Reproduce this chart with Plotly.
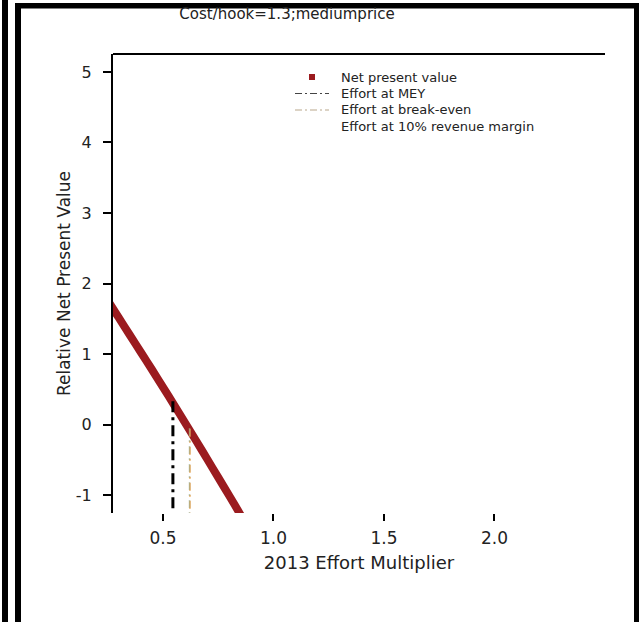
import plotly.graph_objects as go

# ---- data ----
effort = [0.25, 0.30, 0.35, 0.40, 0.45, 0.50, 0.55, 0.60, 0.65, 0.70, 0.75, 0.80, 0.85, 0.90]
npv = [1.76, 1.515, 1.27, 1.025, 0.78, 0.53, 0.28, 0.025, -0.23, -0.49, -0.75, -1.01, -1.275, -1.54]

mey_effort = 0.545
mey_npv = 0.33
breakeven_effort = 0.622
breakeven_npv = -0.06
margin10_effort = 0.620
margin10_npv = -0.05

x_range = [0.274, 2.5]
y_range = [-1.255, 5.255]
x_ticks = [0.5, 1.0, 1.5, 2.0]
x_ticktext = ["0.5", "1.0", "1.5", "2.0"]
y_ticks = [-1, 0, 1, 2, 3, 4, 5]
y_ticktext = ["-1", "0", "1", "2", "3", "4", "5"]

title_text = "Cost/hook=1.3;mediumprice"
x_title = "2013 Effort Multiplier"
y_title = "Relative Net Present Value"
legend_labels = ["Net present value", "Effort at MEY", "Effort at break-even",
                 "Effort at 10% revenue margin"]

# ---- layout geometry ----
W, H = 639, 622
ML, MR, MT, MB = 113, 34, 54, 109
PW = W - ML - MR
PH = H - MT - MB

def px_x(p):
    return (p - ML) / PW

def px_y(p):
    return (H - MB - p) / PH

FONT = "DejaVu Sans, Verdana, sans-serif"
TXT = "#222222"
NPV_COLOR = "#9b1b1f"
MEY_COLOR = "black"
BE_COLOR = "#e9a24c"
M10_COLOR = "rgba(150,170,140,0.55)"

fig = go.Figure()

fig.add_trace(go.Scatter(
    x=effort, y=npv, mode="lines", name=legend_labels[0],
    line=dict(color=NPV_COLOR, width=8, shape="spline", smoothing=0.6), hoverinfo="skip"))
fig.add_trace(go.Scatter(
    x=[mey_effort, mey_effort], y=[mey_npv, y_range[0] - 1], mode="lines",
    name=legend_labels[1],
    line=dict(color=MEY_COLOR, width=3, dash="11px,5px,3px,5px")))
fig.add_trace(go.Scatter(
    x=[breakeven_effort, breakeven_effort], y=[breakeven_npv, y_range[0] - 1], mode="lines",
    name=legend_labels[2],
    line=dict(color=BE_COLOR, width=1.5, dash="8px,4px,2px,4px")))
fig.add_trace(go.Scatter(
    x=[margin10_effort, margin10_effort], y=[margin10_npv, y_range[0] - 1], mode="lines",
    name=legend_labels[3],
    line=dict(color=M10_COLOR, width=1.5, dash="8px,4px,2px,4px")))

shapes = [
    # top frame line of the plot box
    dict(type="line", xref="paper", yref="paper", x0=0, x1=1, y0=1, y1=1,
         line=dict(color="black", width=2)),
    # outer black borders of the image
    dict(type="rect", xref="paper", yref="paper", x0=px_x(2), x1=px_x(8),
         y0=px_y(H + 2), y1=px_y(-2), fillcolor="black", line=dict(width=0)),
    dict(type="rect", xref="paper", yref="paper", x0=px_x(15), x1=px_x(21),
         y0=px_y(H + 2), y1=px_y(3), fillcolor="black", line=dict(width=0)),
    dict(type="rect", xref="paper", yref="paper", x0=px_x(15), x1=px_x(W + 2),
         y0=px_y(8.5), y1=px_y(3), fillcolor="black", line=dict(width=0)),
    dict(type="rect", xref="paper", yref="paper", x0=px_x(634), x1=px_x(W + 2),
         y0=px_y(H + 2), y1=px_y(3), fillcolor="black", line=dict(width=0)),
]

# ---- legend (drawn as key symbols + text, R style, tight rows) ----
leg_rows = [77, 93.5, 110, 126.5]
leg_text_x = 340
annotations = []
for lbl, ry in zip(legend_labels, leg_rows):
    annotations.append(dict(text=lbl, xref="paper", yref="paper", x=px_x(leg_text_x),
                            y=px_y(ry), xanchor="left", yanchor="middle", showarrow=False,
                            borderpad=0,
                            font=dict(size=13, color=TXT, family=FONT)))
shapes.append(dict(type="rect", xref="paper", yref="paper",
                   x0=px_x(309), x1=px_x(315), y0=px_y(leg_rows[0] + 3), y1=px_y(leg_rows[0] - 3),
                   fillcolor=NPV_COLOR, line=dict(width=0)))
shapes.append(dict(type="line", xref="paper", yref="paper",
                   x0=px_x(295), x1=px_x(329), y0=px_y(leg_rows[1]), y1=px_y(leg_rows[1]),
                   line=dict(color="#444444", width=1.2, dash="7px,3px,2px,3px")))
shapes.append(dict(type="line", xref="paper", yref="paper",
                   x0=px_x(295), x1=px_x(329), y0=px_y(leg_rows[2]), y1=px_y(leg_rows[2]),
                   line=dict(color="#b9a88c", width=1.2, dash="7px,3px,2px,3px")))

fig.update_layout(
    width=W, height=H,
    margin=dict(l=ML, r=MR, t=MT, b=MB, autoexpand=False),
    paper_bgcolor="white", plot_bgcolor="white",
    showlegend=False,
    font=dict(family=FONT, color=TXT),
    title=dict(text=title_text, x=287 / W, xanchor="center", xref="container",
               y=1 - 14 / H, yanchor="middle", yref="container",
               font=dict(size=15, color=TXT)),
    xaxis=dict(range=x_range, tickvals=x_ticks, ticktext=x_ticktext,
               showgrid=False, zeroline=False, showline=False,
               ticks="outside", ticklen=7, tickwidth=2, tickcolor="black",
               tickfont=dict(size=17, color=TXT), ticklabelstandoff=3,
               title=dict(text=x_title, font=dict(size=18, color=TXT), standoff=8)),
    yaxis=dict(range=y_range, tickvals=y_ticks, ticktext=y_ticktext,
               showgrid=False, zeroline=False, showline=True, linewidth=2, linecolor="black",
               ticks="outside", ticklen=8, tickwidth=2, tickcolor="black",
               tickfont=dict(size=16, color=TXT), ticklabelstandoff=8,
               title=dict(text=y_title, font=dict(size=17, color=TXT), standoff=1)),
    shapes=shapes,
    annotations=annotations,
)

fig.write_html("out.html", config={"displayModeBar": False},
               post_script="document.body.style.margin='0';")
